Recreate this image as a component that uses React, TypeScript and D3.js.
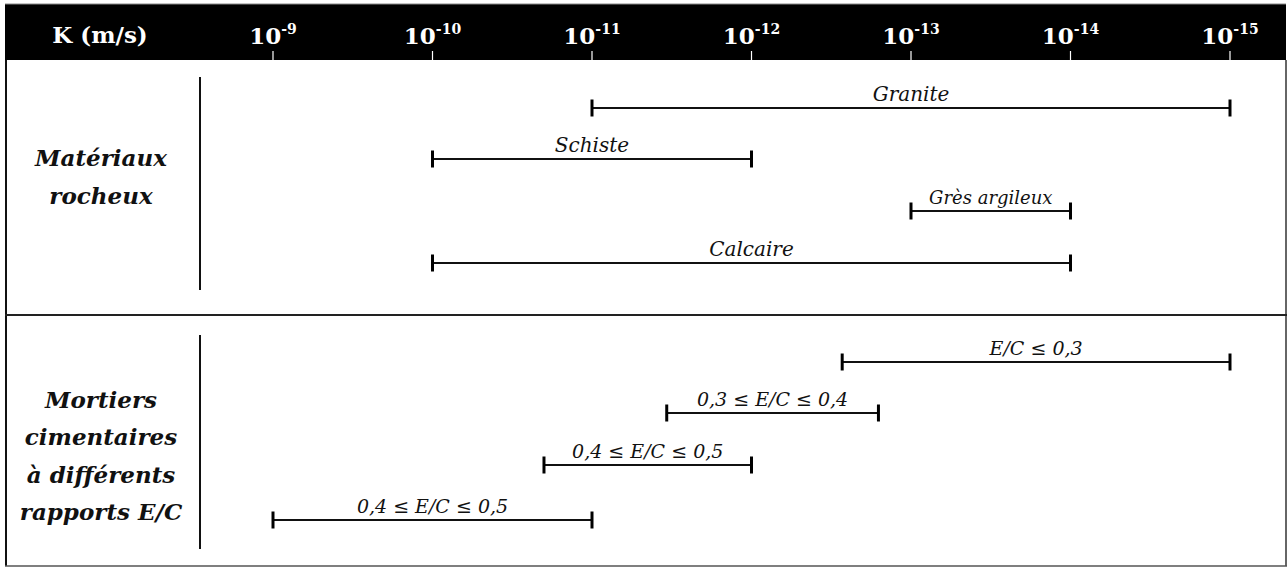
import * as d3 from 'd3'

// K in m/s
const TICK_EXPONENTS = [-9, -10, -11, -12, -13, -14, -15]

const ROCK_NAMES = ['Granite', 'Schiste', 'Grès argileux', 'Calcaire']
const ROCK_KMAX = [1e-11, 1e-10, 1e-13, 1e-10]
const ROCK_KMIN = [1e-15, 1e-12, 1e-14, 1e-14]

const MORTAR_NAMES = ['E/C ≤ 0,3', '0,3 ≤ E/C ≤ 0,4', '0,4 ≤ E/C ≤ 0,5', '0,4 ≤ E/C ≤ 0,5']
const MORTAR_KMAX = [2.7e-13, 3.4e-12, 2e-11, 1e-9]
const MORTAR_KMIN = [1e-15, 1.6e-13, 1e-12, 1e-11]

const GROUP_LABELS = [['Matériaux', 'rocheux'], ['Mortiers', 'cimentaires', 'à différents', 'rapports E/C']]

const W = 1288
const H = 569
const FONT = '"DejaVu Serif", "Liberation Serif", serif'

// vertical layout
const ROCK_Y = [108, 159, 211, 263]
const MORTAR_Y = [362, 413, 465, 520]

export default function App() {
  const x = d3.scaleLog().domain([1e-9, 1e-15]).range([273, 1230])

  const headerTop = 4
  const headerBottom = 60
  const divider = 315
  const bottom = 566

  const bar = (name: string, k1: number, k2: number, y: number, key: string, size = 20) => {
    const x1 = x(k1)
    const x2 = x(k2)
    return (
      <g key={key}>
        <line x1={x1} x2={x2} y1={y} y2={y} stroke="#111" strokeWidth={2} />
        <line x1={x1} x2={x1} y1={y - 8.5} y2={y + 8.5} stroke="#000" strokeWidth={3} />
        <line x1={x2} x2={x2} y1={y - 8.5} y2={y + 8.5} stroke="#000" strokeWidth={3} />
        <text
          x={(x1 + x2) / 2}
          y={y - 7}
          textAnchor="middle"
          fontStyle="italic"
          fontSize={size}
          fontFamily={FONT}
          fill="#111"
        >
          {name}
        </text>
      </g>
    )
  }

  const groupLabel = (lines: string[], cy: number, key: string) => {
    const lh = 37.5
    const y0 = cy - ((lines.length - 1) * lh) / 2
    return (
      <text key={key} textAnchor="middle" fontStyle="italic" fontWeight="bold" fontSize={23}
        fontFamily={FONT} fill="#111">
        {lines.map((l, i) => (
          <tspan key={i} x={101} y={y0 + i * lh + 8}>{l}</tspan>
        ))}
      </text>
    )
  }

  return (
    <svg width={W} height={H} style={{ position: 'absolute', left: 0, top: 0, background: '#fff' }}>
      {/* header band */}
      <rect x={5} y={headerTop} width={1281} height={headerBottom - headerTop} fill="#000" />
      <line x1={5} x2={1286} y1={headerTop} y2={headerTop} stroke="#888" strokeWidth={1} />
      <text x={100} y={43} textAnchor="middle" fontWeight="bold" fontSize={23} fontFamily={FONT} fill="#fff">
        K (m/s)
      </text>
      {TICK_EXPONENTS.map((e) => (
        <g key={e}>
          <line x1={x(10 ** e)} x2={x(10 ** e)} y1={51} y2={headerBottom} stroke="#fff" strokeWidth={1.2} />
          <text x={x(10 ** e)} y={44} textAnchor="middle" fontWeight="bold" fontFamily={FONT} fill="#fff">
            <tspan fontSize={23}>10</tspan>
            <tspan fontSize={14} dy={-10}>{e}</tspan>
          </text>
        </g>
      ))}

      {/* frame */}
      <line x1={6} x2={6} y1={headerBottom} y2={bottom} stroke="#111" strokeWidth={2} />
      <line x1={1286} x2={1286} y1={headerBottom} y2={bottom} stroke="#333" strokeWidth={1.5} />
      <line x1={5} x2={1287} y1={bottom} y2={bottom} stroke="#555" strokeWidth={1.5} />
      <line x1={5} x2={1287} y1={divider} y2={divider} stroke="#222" strokeWidth={2} />

      {/* group separators */}
      <line x1={200} x2={200} y1={77} y2={290} stroke="#111" strokeWidth={2} />
      <line x1={200} x2={200} y1={335} y2={549} stroke="#111" strokeWidth={2} />

      {groupLabel(GROUP_LABELS[0], 177, 'g0')}
      {groupLabel(GROUP_LABELS[1], 456, 'g1')}

      {ROCK_NAMES.map((n, i) => bar(n, ROCK_KMAX[i], ROCK_KMIN[i], ROCK_Y[i], 'r' + i, n === 'Grès argileux' ? 18 : 20))}
      {MORTAR_NAMES.map((n, i) => bar(n, MORTAR_KMAX[i], MORTAR_KMIN[i], MORTAR_Y[i], 'm' + i, 19))}
    </svg>
  )
}
